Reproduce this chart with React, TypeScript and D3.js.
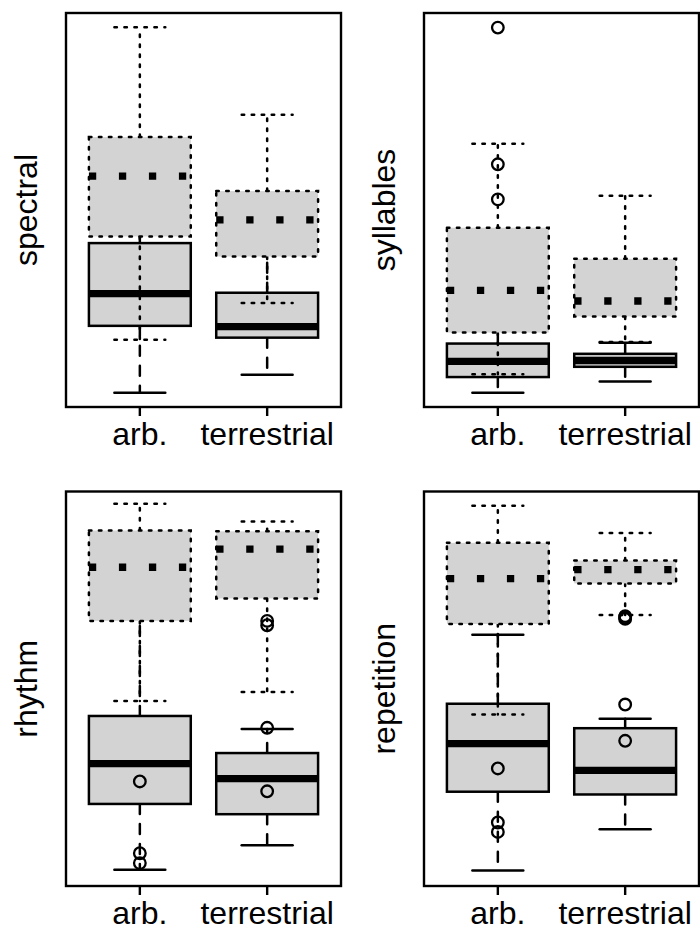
import React from "react";
import * as d3 from "d3";

const categories = ["arb.", "terrestrial"];
const panelNames = ["spectral", "syllables", "rhythm", "repetition"];

// five-number summaries [lower whisker, Q1, median, Q3, upper whisker] per category
const spectralSolid = [[3.6, 20.6, 28.8, 41.6, 52.5], [8.2, 17.6, 20.4, 29.0, 44.0]];
const spectralDotted = [[17.1, 43.3, 58.6, 68.5, 96.4], [26.4, 38.2, 47.5, 54.8, 74.2]];
const spectralSolidOut: number[][] = [[], []];
const spectralDottedOut: number[][] = [[], []];

const syllablesSolid = [[3.6, 7.6, 11.6, 16.1, 22.0], [6.5, 10.2, 11.8, 13.5, 16.3]];
const syllablesDotted = [[8.3, 18.9, 29.6, 45.5, 66.8], [16.5, 23.0, 26.9, 37.6, 53.6]];
const syllablesSolidOut = [[96.3, 61.6, 52.7], []];
const syllablesDottedOut: number[][] = [[], []];

const rhythmSolid = [[4.1, 20.8, 31.0, 43.1, 73.6], [10.3, 18.2, 27.2, 33.7, 39.8]];
const rhythmDotted = [[46.9, 67.2, 80.8, 90.1, 96.9], [49.2, 72.9, 85.4, 89.9, 92.4]];
const rhythmSolidOut: number[][] = [[], []];
const rhythmDottedOut = [[26.5, 8.3, 5.8], [67.2, 66.1, 40.1, 24.0]];

const repetitionSolid = [[3.9, 23.9, 36.1, 46.2, 63.7], [14.4, 23.2, 29.3, 40.0, 42.4]];
const repetitionDotted = [[43.5, 66.4, 77.9, 87.0, 96.4], [68.7, 76.7, 80.2, 82.5, 89.5]];
const repetitionSolidOut: number[][] = [[], []];
const repetitionDottedOut = [[29.8, 16.1, 13.7], [68.4, 68.0, 67.7, 46.0, 36.8]];

const solidStats = [spectralSolid, syllablesSolid, rhythmSolid, repetitionSolid];
const dottedStats = [spectralDotted, syllablesDotted, rhythmDotted, repetitionDotted];
const solidOut = [spectralSolidOut, syllablesSolidOut, rhythmSolidOut, repetitionSolidOut];
const dottedOut = [spectralDottedOut, syllablesDottedOut, rhythmDottedOut, repetitionDottedOut];

const frames = [
  { left: 66, right: 341, top: 13, bottom: 407, labX: 37 },
  { left: 424, right: 699, top: 13, bottom: 407, labX: 395 },
  { left: 66, right: 341, top: 491.5, bottom: 886, labX: 37 },
  { left: 424, right: 699, top: 491.5, bottom: 886, labX: 395 },
];

const FILL = "#d3d3d3";
const LW = 2.5;
const FONT = "'Liberation Sans', Arial, Helvetica, sans-serif";

function Series({ stats, outs, x, y, dotted }: any) {
  const dash = dotted ? "2.5 7.5" : undefined;
  const whiskDash = dotted ? "2.5 7.5" : "10 10";
  return (
    <g>
      {stats.map((s: number[], i: number) => {
        const cx = x(i + 1);
        const bl = x(i + 1 - 0.4);
        const br = x(i + 1 + 0.4);
        const sl = x(i + 1 - 0.2);
        const sr = x(i + 1 + 0.2);
        const [lo, q1, med, q3, hi] = s;
        return (
          <g key={i}>
            <line x1={cx} x2={cx} y1={y(q1)} y2={y(lo)} stroke="#000" strokeWidth={LW}
              strokeDasharray={whiskDash} strokeLinecap="round" />
            <line x1={cx} x2={cx} y1={y(q3)} y2={y(hi)} stroke="#000" strokeWidth={LW}
              strokeDasharray={whiskDash} strokeLinecap="round" />
            <line x1={sl} x2={sr} y1={y(lo)} y2={y(lo)} stroke="#000" strokeWidth={LW}
              strokeDasharray={dash} strokeLinecap="round" />
            <line x1={sl} x2={sr} y1={y(hi)} y2={y(hi)} stroke="#000" strokeWidth={LW}
              strokeDasharray={dash} strokeLinecap="round" />
            <rect x={bl} y={y(q3)} width={br - bl} height={y(q1) - y(q3)} fill={FILL}
              stroke="#000" strokeWidth={LW} strokeDasharray={dash} strokeLinecap="round" />
            <line x1={bl} x2={br} y1={y(med)} y2={y(med)} stroke="#000" strokeWidth={7.3}
              strokeDasharray={dotted ? "7.3 22.7" : undefined} strokeLinecap="butt" />
            {outs[i].map((o: number, k: number) => (
              <circle key={k} cx={cx} cy={y(o)} r={5.8} fill="none" stroke="#000" strokeWidth={2.3} />
            ))}
          </g>
        );
      })}
    </g>
  );
}

export default function App() {
  return (
    <svg width={700} height={928} style={{ position: "absolute", left: 0, top: 0, background: "#fff" }}>
      <rect width={700} height={928} fill="#fff" />
      {frames.map((f, p) => {
        const x = d3.scaleLinear().domain([0.42, 2.58]).range([f.left, f.right]);
        const y = d3.scaleLinear().domain([0, 100]).range([f.bottom, f.top]);
        const cy = (f.top + f.bottom) / 2;
        return (
          <g key={p}>
            <Series stats={solidStats[p]} outs={solidOut[p]} x={x} y={y} dotted={false} />
            <Series stats={dottedStats[p]} outs={dottedOut[p]} x={x} y={y} dotted={true} />
            <rect x={f.left} y={f.top} width={f.right - f.left} height={f.bottom - f.top}
              fill="none" stroke="#000" strokeWidth={2.4} />
            {categories.map((c, i) => (
              <g key={c}>
                <line x1={x(i + 1)} x2={x(i + 1)} y1={f.bottom} y2={f.bottom + 9} stroke="#000" strokeWidth={2.4} />
                <text x={x(i + 1)} y={f.bottom + 38} textAnchor="middle" fontFamily={FONT} fontSize={32}>{c}</text>
              </g>
            ))}
            <text transform={`translate(${f.labX},${cy}) rotate(-90)`} textAnchor="middle"
              fontFamily={FONT} fontSize={32}>{panelNames[p]}</text>
          </g>
        );
      })}
    </svg>
  );
}
